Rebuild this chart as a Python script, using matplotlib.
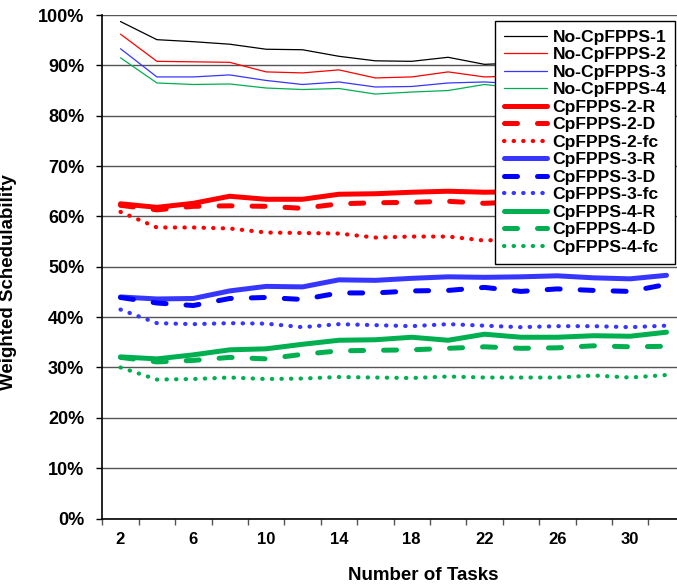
import matplotlib
matplotlib.use('Agg')
import matplotlib.pyplot as plt
from matplotlib.ticker import FixedLocator, NullFormatter, FixedFormatter

# number of tasks per task set
tasks = [2, 4, 6, 8, 10, 12, 14, 16, 18, 20, 22, 24, 26, 28, 30, 32]

# weighted schedulability (%) without CpFPPS, per core count
no_cpfpps_1 = [98.7, 95.1, 94.7, 94.2, 93.2, 93.1, 91.8, 90.9, 90.8, 91.6, 90.2, 90.5, 90.1, 90.3, 89.9, 90.0]
no_cpfpps_2 = [96.2, 90.8, 90.7, 90.6, 88.7, 88.5, 89.1, 87.5, 87.7, 88.7, 87.7, 87.9, 87.5, 87.6, 87.3, 87.4]
no_cpfpps_3 = [93.3, 87.7, 87.7, 88.1, 87.0, 86.2, 86.7, 85.7, 85.8, 86.5, 86.7, 86.3, 86.0, 86.1, 85.8, 85.9]
no_cpfpps_4 = [91.5, 86.5, 86.2, 86.3, 85.5, 85.2, 85.4, 84.3, 84.7, 85.0, 86.2, 85.4, 85.0, 85.2, 84.9, 85.0]

# CpFPPS variants (R, D, fc)
cp2_r = [62.5, 61.8, 62.6, 64.0, 63.4, 63.4, 64.4, 64.5, 64.8, 65.0, 64.8, 64.9, 65.1, 65.0, 65.2, 65.3]
cp2_d = [62.2, 61.3, 62.0, 62.1, 62.0, 61.6, 62.5, 62.7, 62.8, 63.0, 62.6, 62.9, 63.1, 62.9, 63.2, 63.3]
cp2_fc = [60.9, 57.8, 57.8, 57.6, 56.8, 56.7, 56.6, 55.8, 56.0, 56.0, 55.2, 55.6, 55.4, 55.7, 55.5, 55.6]
cp3_r = [44.0, 43.6, 43.7, 45.2, 46.1, 46.0, 47.4, 47.3, 47.7, 48.0, 47.9, 48.0, 48.2, 47.8, 47.6, 48.3]
cp3_d = [43.9, 42.8, 42.3, 43.7, 43.9, 43.5, 44.8, 44.8, 45.2, 45.3, 45.9, 45.1, 45.6, 45.3, 45.1, 46.5]
cp3_fc = [41.5, 38.8, 38.6, 38.8, 38.7, 38.0, 38.6, 38.4, 38.2, 38.6, 38.3, 38.0, 38.2, 38.2, 38.0, 38.3]
cp4_r = [32.1, 31.7, 32.5, 33.5, 33.7, 34.6, 35.4, 35.5, 36.0, 35.4, 36.6, 36.0, 36.0, 36.3, 36.2, 37.0]
cp4_d = [32.0, 31.1, 31.4, 32.0, 31.7, 32.6, 33.3, 33.4, 33.5, 33.8, 34.1, 33.8, 33.9, 34.3, 34.1, 34.2]
cp4_fc = [30.0, 27.6, 27.7, 28.0, 27.7, 27.8, 28.1, 28.0, 27.9, 28.2, 28.0, 28.0, 28.0, 28.4, 28.0, 28.5]

x_labels = ['2', '6', '10', '14', '18', '22', '26', '30']
y_ticks = [0, 10, 20, 30, 40, 50, 60, 70, 80, 90, 100]

plt.rcParams['font.family'] = ['Liberation Sans', 'DejaVu Sans']
plt.rcParams['font.weight'] = 'bold'

RED = '#FF0000'
BLUE = '#3636FF'
GREEN = '#00B050'

fig = plt.figure(figsize=(6.77, 5.88), dpi=100)
# plot area runs a bit past the right edge, like the exported chart
ax = fig.add_axes([102.3 / 677, 1 - 518.5 / 588, 582.4 / 677, 503.5 / 588])

thin = 0.9
thick = 3.6
dot = 3.0

series = [
    ('No-CpFPPS-1', no_cpfpps_1, 'black', thin, None),
    ('No-CpFPPS-2', no_cpfpps_2, RED, thin, None),
    ('No-CpFPPS-3', no_cpfpps_3, BLUE, thin, None),
    ('No-CpFPPS-4', no_cpfpps_4, GREEN, thin, None),
    ('CpFPPS-2-R', cp2_r, RED, thick, None),
    ('CpFPPS-2-D', cp2_d, RED, thick, (2.6, 4.0)),
    ('CpFPPS-2-fc', cp2_fc, RED, dot, (0.1, 2.2)),
    ('CpFPPS-3-R', cp3_r, BLUE, thick, None),
    ('CpFPPS-3-D', cp3_d, '#0000FF', thick, (2.6, 4.0)),
    ('CpFPPS-3-fc', cp3_fc, BLUE, dot, (0.1, 2.2)),
    ('CpFPPS-4-R', cp4_r, GREEN, thick, None),
    ('CpFPPS-4-D', cp4_d, GREEN, thick, (2.6, 4.0)),
    ('CpFPPS-4-fc', cp4_fc, GREEN, dot, (0.1, 2.2)),
]

for name, vals, col, lw, dash in series:
    line, = ax.plot(tasks, vals, color=col, lw=lw, label=name,
                    solid_capstyle='round', dash_capstyle='round', zorder=3)
    if dash is not None:
        line.set_dashes(dash)

ax.set_xlim(1, 33)
ax.set_ylim(0, 100)

# category boundaries get the tick marks, labels sit in the middle
ax.xaxis.set_major_locator(FixedLocator(list(range(1, 34, 2))))
ax.xaxis.set_major_formatter(NullFormatter())
ax.xaxis.set_minor_locator(FixedLocator([int(s) for s in x_labels]))
ax.xaxis.set_minor_formatter(FixedFormatter(x_labels))
ax.tick_params(axis='x', which='major', direction='out', length=4, width=1, color='#555555')
ax.tick_params(axis='x', which='minor', length=0, pad=10, labelsize=12)

ax.set_yticks(y_ticks)
ax.set_yticklabels([f'{v}%' for v in y_ticks])
ax.tick_params(axis='y', direction='out', length=4, width=1, pad=9, labelsize=13)

ax.grid(axis='y', color='#555555', lw=1.0)
ax.set_axisbelow(True)
for s in ['top', 'right']:
    ax.spines[s].set_visible(False)
ax.spines['left'].set_linewidth(1.2)
ax.spines['bottom'].set_linewidth(1.2)

ax.set_xlabel('Number of Tasks', fontsize=13.5, fontweight='bold')
ax.xaxis.set_label_coords(0.551, -0.097)
ax.set_ylabel('Weighted Schedulability', fontsize=13.5, fontweight='bold')
ax.yaxis.set_label_coords(-0.1465, 0.47)

leg = ax.legend(loc='upper right', bbox_to_anchor=(675 / 677, 1 - 20.7 / 588),
                bbox_transform=fig.transFigure, borderaxespad=0,
                fontsize=12.6, labelspacing=0.13, handlelength=2.5,
                handletextpad=0.3, borderpad=0.5, fancybox=False,
                framealpha=1, edgecolor='black')
leg.get_frame().set_linewidth(1.0)
leg.set_zorder(5)

plt.savefig('out.png', dpi=100)
